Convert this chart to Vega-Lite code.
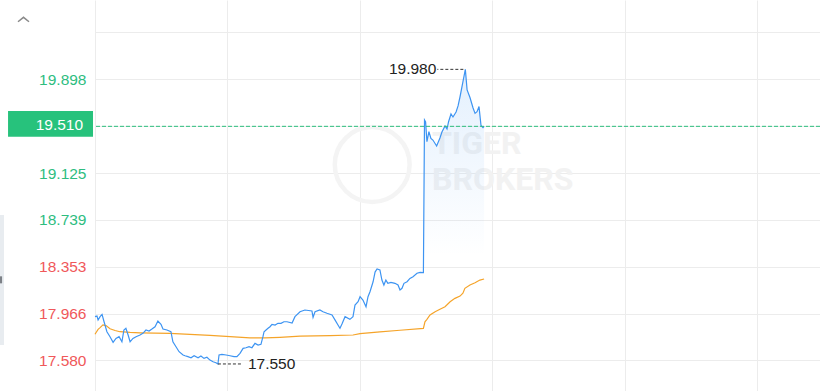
{
  "$schema": "https://vega.github.io/schema/vega-lite/v6.json",
  "width": 725,
  "height": 391,
  "autosize": {"type": "none"},
  "padding": {"left": 95, "top": 0, "right": 0, "bottom": 0},
  "background": "white",
  "config": {"view": {"stroke": null}, "font": "Liberation Sans"},
  "datasets": {
    "price": [
      {"t": 0, "p": 17.940}, {"t": 0.9, "p": 17.945}, {"t": 1.4, "p": 17.912}, {"t": 2.3, "p": 17.940},
      {"t": 3.2, "p": 17.959}, {"t": 4.1, "p": 17.898}, {"t": 5.4, "p": 17.816}, {"t": 6.8, "p": 17.775},
      {"t": 8.2, "p": 17.728}, {"t": 9.5, "p": 17.761}, {"t": 10.9, "p": 17.775}, {"t": 12.2, "p": 17.733},
      {"t": 13.1, "p": 17.830}, {"t": 14.0, "p": 17.844}, {"t": 15.0, "p": 17.789}, {"t": 15.9, "p": 17.733},
      {"t": 17.2, "p": 17.761}, {"t": 18.6, "p": 17.775}, {"t": 20.4, "p": 17.789}, {"t": 21.7, "p": 17.803},
      {"t": 23.1, "p": 17.830}, {"t": 24.5, "p": 17.822}, {"t": 25.8, "p": 17.838}, {"t": 27.2, "p": 17.857},
      {"t": 28.5, "p": 17.904}, {"t": 29.9, "p": 17.877}, {"t": 30.8, "p": 17.838}, {"t": 32.6, "p": 17.830},
      {"t": 34.4, "p": 17.816}, {"t": 35.3, "p": 17.733}, {"t": 36.7, "p": 17.692}, {"t": 38.1, "p": 17.651},
      {"t": 39.9, "p": 17.624}, {"t": 40.8, "p": 17.618}, {"t": 42.1, "p": 17.610}, {"t": 43.5, "p": 17.601},
      {"t": 44.9, "p": 17.618}, {"t": 46.7, "p": 17.601}, {"t": 48.0, "p": 17.615}, {"t": 49.4, "p": 17.596},
      {"t": 50.7, "p": 17.605}, {"t": 52.1, "p": 17.582}, {"t": 53.5, "p": 17.568}, {"t": 54.8, "p": 17.56},
      {"t": 55.7, "p": 17.55}, {"t": 56.2, "p": 17.624}, {"t": 57.5, "p": 17.629}, {"t": 59.4, "p": 17.624},
      {"t": 61.2, "p": 17.618}, {"t": 63.0, "p": 17.610}, {"t": 64.3, "p": 17.610}, {"t": 65.7, "p": 17.638},
      {"t": 67.1, "p": 17.679}, {"t": 68.4, "p": 17.684}, {"t": 69.8, "p": 17.692}, {"t": 71.1, "p": 17.684},
      {"t": 72.5, "p": 17.720}, {"t": 73.9, "p": 17.706}, {"t": 75.2, "p": 17.712}, {"t": 76.1, "p": 17.775},
      {"t": 76.6, "p": 17.816}, {"t": 77.5, "p": 17.830}, {"t": 78.4, "p": 17.844}, {"t": 79.3, "p": 17.857},
      {"t": 80.2, "p": 17.877}, {"t": 81.6, "p": 17.871}, {"t": 82.9, "p": 17.885}, {"t": 84.3, "p": 17.885},
      {"t": 85.6, "p": 17.898}, {"t": 87.0, "p": 17.898}, {"t": 89.3, "p": 17.888}, {"t": 90.6, "p": 17.940},
      {"t": 92.9, "p": 17.981}, {"t": 95.1, "p": 17.995}, {"t": 98.3, "p": 17.987}, {"t": 98.8, "p": 17.935},
      {"t": 99.7, "p": 17.981}, {"t": 101.9, "p": 17.995}, {"t": 103.3, "p": 17.981}, {"t": 105.1, "p": 17.968},
      {"t": 107.4, "p": 17.954}, {"t": 108.8, "p": 17.912}, {"t": 110.1, "p": 17.871}, {"t": 111.0, "p": 17.844},
      {"t": 111.9, "p": 17.879}, {"t": 113.3, "p": 17.940}, {"t": 115.5, "p": 17.918}, {"t": 116.9, "p": 17.940},
      {"t": 117.8, "p": 18.036}, {"t": 119.2, "p": 18.063}, {"t": 120.1, "p": 18.105}, {"t": 121.4, "p": 18.077},
      {"t": 122.8, "p": 18.022}, {"t": 123.7, "p": 18.105}, {"t": 124.6, "p": 18.146}, {"t": 126.0, "p": 18.228},
      {"t": 126.9, "p": 18.308}, {"t": 127.8, "p": 18.333}, {"t": 129.1, "p": 18.325}, {"t": 130.0, "p": 18.242},
      {"t": 130.9, "p": 18.201}, {"t": 131.8, "p": 18.242}, {"t": 132.7, "p": 18.215}, {"t": 134.1, "p": 18.223},
      {"t": 135.9, "p": 18.215}, {"t": 137.3, "p": 18.201}, {"t": 138.2, "p": 18.160}, {"t": 139.1, "p": 18.174},
      {"t": 140.0, "p": 18.215}, {"t": 141.4, "p": 18.228}, {"t": 142.7, "p": 18.256}, {"t": 144.1, "p": 18.270},
      {"t": 145.9, "p": 18.298}, {"t": 147.3, "p": 18.306}, {"t": 148.8, "p": 18.304}, {"t": 149.3, "p": 19.562},
      {"t": 149.8, "p": 19.546}, {"t": 150.4, "p": 19.383}, {"t": 151.3, "p": 19.466}, {"t": 152.2, "p": 19.411},
      {"t": 153.1, "p": 19.397}, {"t": 154.8, "p": 19.348}, {"t": 156.3, "p": 19.414}, {"t": 157.2, "p": 19.463},
      {"t": 158.6, "p": 19.513}, {"t": 159.5, "p": 19.488}, {"t": 160.2, "p": 19.548}, {"t": 161.3, "p": 19.612},
      {"t": 162.2, "p": 19.587}, {"t": 163.6, "p": 19.628}, {"t": 164.5, "p": 19.678}, {"t": 165.4, "p": 19.754},
      {"t": 166.7, "p": 19.876}, {"t": 167.8, "p": 19.98}, {"t": 168.6, "p": 19.810}, {"t": 169.9, "p": 19.748},
      {"t": 171.3, "p": 19.661}, {"t": 172.2, "p": 19.617}, {"t": 173.1, "p": 19.631}, {"t": 174.0, "p": 19.673},
      {"t": 174.9, "p": 19.517}, {"t": 175.8, "p": 19.500}, {"t": 176.3, "p": 19.510}
    ],
    "avg": [
      {"t": 0, "p": 17.795}, {"t": 1.4, "p": 17.835}, {"t": 2.3, "p": 17.850}, {"t": 3.6, "p": 17.873},
      {"t": 5.0, "p": 17.866}, {"t": 6.8, "p": 17.840}, {"t": 9.1, "p": 17.826}, {"t": 11.3, "p": 17.816},
      {"t": 15.9, "p": 17.810}, {"t": 20.4, "p": 17.807}, {"t": 34.0, "p": 17.803}, {"t": 43.0, "p": 17.794},
      {"t": 52.1, "p": 17.786}, {"t": 61.2, "p": 17.775}, {"t": 70.2, "p": 17.766}, {"t": 77.0, "p": 17.765},
      {"t": 83.8, "p": 17.770}, {"t": 92.9, "p": 17.780}, {"t": 106.5, "p": 17.784}, {"t": 116.9, "p": 17.789},
      {"t": 120.1, "p": 17.800}, {"t": 129.1, "p": 17.814}, {"t": 138.2, "p": 17.828}, {"t": 148.8, "p": 17.844},
      {"t": 149.5, "p": 17.898}, {"t": 150.4, "p": 17.918}, {"t": 151.8, "p": 17.954}, {"t": 154.1, "p": 17.981},
      {"t": 156.3, "p": 18.001}, {"t": 158.6, "p": 18.022}, {"t": 160.9, "p": 18.063}, {"t": 163.1, "p": 18.091},
      {"t": 165.4, "p": 18.110}, {"t": 166.7, "p": 18.133}, {"t": 167.6, "p": 18.174}, {"t": 169.9, "p": 18.201},
      {"t": 172.2, "p": 18.220}, {"t": 174.4, "p": 18.242}, {"t": 176.3, "p": 18.251}
    ],
    "current": [{"p": 19.51}]
  },
  "layer": [
    {
      "data": {"values": [{}]},
      "mark": {"type": "rect", "color": "#e8ecf0"},
      "encoding": {
        "x": {
          "datum": -43.04, "type": "quantitative",
          "scale": {"domain": [0, 328.5], "nice": false, "zero": false},
          "axis": {"values": [0, 60, 120, 180, 240, 300, 328.5], "labels": false, "ticks": false, "domain": false, "title": null, "grid": true, "gridColor": "#ececec", "gridWidth": 1}
        },
        "x2": {"datum": -41.23},
        "y": {
          "datum": 18.778, "type": "quantitative",
          "scale": {"domain": [17.327, 20.552], "nice": false, "zero": false},
          "axis": {
            "values": [17.58, 17.966, 18.353, 18.739, 19.125, 19.51, 19.898, 20.284],
            "title": null, "grid": true, "gridColor": "#ececec", "gridWidth": 1,
            "ticks": false, "domain": false, "labelPadding": 9, "labelFontSize": 15.5,
            "labelFont": "Liberation Sans", "labelFlush": false, "labelOverlap": false,
            "labelExpr": "datum.value > 20 || abs(datum.value - 19.51) < 0.001 ? '' : format(datum.value, '.3f')",
            "labelColor": {"condition": {"test": "datum.value > 18.5", "value": "#2ebd7f"}, "value": "#f0585a"}
          }
        },
        "y2": {"datum": 17.706}
      }
    },
    {
      "data": {"values": [{}]},
      "mark": {"type": "rect", "color": "#7d8187"},
      "encoding": {
        "x": {"datum": -43.04, "type": "quantitative", "axis": {"title": null}},
        "x2": {"datum": -42.1},
        "y": {"datum": 18.273, "type": "quantitative", "axis": {"title": null}},
        "y2": {"datum": 18.215}
      }
    },
    {
      "data": {"values": [{}]},
      "mark": {"type": "point", "shape": "circle", "filled": false, "size": 5600, "stroke": "#f4f4f4", "strokeWidth": 4.5, "opacity": 1},
      "encoding": {
        "x": {"datum": 125.6, "type": "quantitative", "axis": {"title": null}},
        "y": {"datum": 19.195, "type": "quantitative", "axis": {"title": null}}
      }
    },
    {
      "data": {"values": [{"w": "TIGER", "row": 19.366}, {"w": "BROKERS", "row": 19.067}]},
      "mark": {"type": "text", "align": "left", "baseline": "middle", "fontSize": 32, "fontWeight": "bold", "font": "Roboto", "color": "#f2f2f2"},
      "encoding": {
        "x": {"datum": 152.7, "type": "quantitative", "axis": {"title": null}},
        "y": {"field": "row", "type": "quantitative", "axis": {"title": null}},
        "text": {"field": "w"}
      }
    },
    {
      "data": {"name": "price"},
      "mark": {
        "type": "area",
        "color": {
          "gradient": "linear", "x1": 0, "y1": 0, "x2": 0, "y2": 1,
          "stops": [
            {"offset": 0, "color": "rgba(61,148,242,0.14)"},
            {"offset": 0.58, "color": "rgba(61,148,242,0)"}
          ]
        }
      },
      "encoding": {
        "x": {"field": "t", "type": "quantitative", "axis": {"title": null}},
        "y": {"field": "p", "type": "quantitative", "axis": {"title": null}},
        "y2": {"datum": 17.327}
      }
    },
    {
      "data": {"name": "avg"},
      "mark": {"type": "line", "color": "#f5a42a", "strokeWidth": 1.2},
      "encoding": {
        "x": {"field": "t", "type": "quantitative", "axis": {"title": null}},
        "y": {"field": "p", "type": "quantitative", "axis": {"title": null}}
      }
    },
    {
      "data": {"name": "price"},
      "mark": {"type": "line", "color": "#3d94f2", "strokeWidth": 1.2},
      "encoding": {
        "x": {"field": "t", "type": "quantitative", "axis": {"title": null}},
        "y": {"field": "p", "type": "quantitative", "axis": {"title": null}}
      }
    },
    {
      "data": {"name": "current"},
      "mark": {"type": "rule", "color": "#2dbf7e", "strokeDash": [4, 2], "strokeWidth": 1},
      "encoding": {
        "y": {"field": "p", "type": "quantitative", "axis": {"title": null}}
      }
    },
    {
      "data": {"name": "current"},
      "mark": {"type": "rect", "color": "#27c27c"},
      "encoding": {
        "x": {"datum": -39.4, "type": "quantitative", "axis": {"title": null}},
        "x2": {"datum": -0.9},
        "y": {"datum": 19.636, "type": "quantitative", "axis": {"title": null}},
        "y2": {"datum": 19.424}
      }
    },
    {
      "data": {"name": "current"},
      "mark": {"type": "text", "align": "right", "baseline": "middle", "fontSize": 15.5, "color": "white", "font": "Liberation Sans", "dy": -1},
      "encoding": {
        "x": {"datum": -5.4, "type": "quantitative", "axis": {"title": null}},
        "y": {"field": "p", "type": "quantitative", "axis": {"title": null}},
        "text": {"field": "p", "format": ".3f"}
      }
    },
    {
      "data": {"values": [{}]},
      "mark": {"type": "point", "shape": "M-1,0.4L0,-0.4L1,0.4", "filled": false, "size": 121, "stroke": "#8a8a8a", "strokeWidth": 1.5, "opacity": 1},
      "encoding": {
        "x": {"datum": -32.4, "type": "quantitative", "axis": {"title": null}},
        "y": {"datum": 20.391, "type": "quantitative", "axis": {"title": null}}
      }
    },
    {
      "data": {"name": "price"},
      "transform": [{"filter": "datum.p === 19.98"}],
      "mark": {"type": "rule", "color": "#333333", "strokeDash": [3, 2], "strokeWidth": 1, "xOffset": -2, "x2Offset": -28},
      "encoding": {
        "x": {"field": "t", "type": "quantitative", "axis": {"title": null}},
        "x2": {"field": "t"},
        "y": {"field": "p", "type": "quantitative", "axis": {"title": null}}
      }
    },
    {
      "data": {"name": "price"},
      "transform": [{"filter": "datum.p === 19.98"}],
      "mark": {"type": "text", "align": "right", "baseline": "middle", "dx": -29, "fontSize": 15.5, "color": "#222222", "font": "Liberation Sans"},
      "encoding": {
        "x": {"field": "t", "type": "quantitative", "axis": {"title": null}},
        "y": {"field": "p", "type": "quantitative", "axis": {"title": null}},
        "text": {"field": "p", "format": ".3f"}
      }
    },
    {
      "data": {"name": "price"},
      "transform": [{"filter": "datum.p === 17.55"}],
      "mark": {"type": "rule", "color": "#333333", "strokeDash": [3, 2], "strokeWidth": 1, "xOffset": 0, "x2Offset": 25},
      "encoding": {
        "x": {"field": "t", "type": "quantitative", "axis": {"title": null}},
        "x2": {"field": "t"},
        "y": {"field": "p", "type": "quantitative", "axis": {"title": null}}
      }
    },
    {
      "data": {"name": "price"},
      "transform": [{"filter": "datum.p === 17.55"}],
      "mark": {"type": "text", "align": "left", "baseline": "middle", "dx": 30, "fontSize": 15.5, "color": "#222222", "font": "Liberation Sans"},
      "encoding": {
        "x": {"field": "t", "type": "quantitative", "axis": {"title": null}},
        "y": {"field": "p", "type": "quantitative", "axis": {"title": null}},
        "text": {"field": "p", "format": ".3f"}
      }
    }
  ]
}
